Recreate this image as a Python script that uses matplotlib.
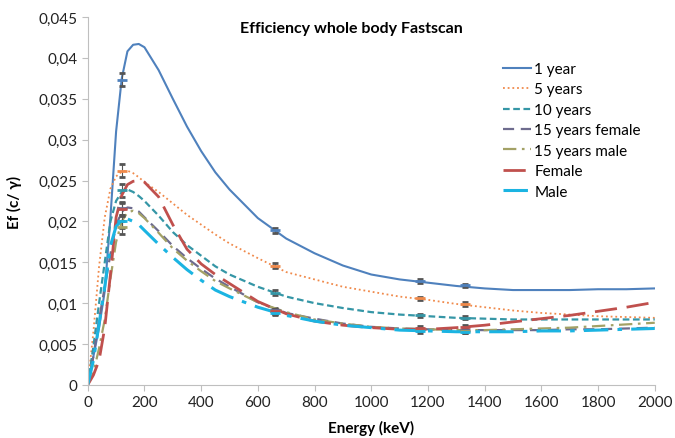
import matplotlib
matplotlib.use("Agg")
import matplotlib.pyplot as plt
from matplotlib.ticker import FuncFormatter, MultipleLocator

plt.rcParams['font.family'] = ['Lato', 'DejaVu Sans']

# energy grid of the fitted curves (keV)
energy = [0, 20, 40, 60, 80, 100, 120, 140, 160, 180, 200, 250, 300, 350, 400, 450,
          500, 600, 700, 800, 900, 1000, 1100, 1200, 1300, 1400, 1500, 1600, 1700,
          1800, 1900, 2000]

ef_1y = [0, 0.0035, 0.0070, 0.0115, 0.0205, 0.0310, 0.0375, 0.0408, 0.0416, 0.0417,
         0.0413, 0.0385, 0.0350, 0.0316, 0.0286, 0.0260, 0.0239, 0.0204, 0.0179,
         0.0161, 0.0146, 0.0135, 0.0129, 0.0125, 0.0121, 0.0118, 0.0116, 0.0116,
         0.0116, 0.0117, 0.0117, 0.0118]
ef_5y = [0, 0.0065, 0.0145, 0.0205, 0.0240, 0.0255, 0.0261, 0.0262, 0.0259, 0.0254,
         0.0248, 0.0236, 0.0222, 0.0208, 0.0196, 0.0184, 0.0173, 0.0155, 0.0138,
         0.0129, 0.0120, 0.0114, 0.0108, 0.0104, 0.0099, 0.0095, 0.0091, 0.0088,
         0.0086, 0.0084, 0.0083, 0.0082]
ef_10y = [0, 0.0047, 0.0100, 0.0150, 0.0200, 0.0225, 0.0236, 0.0239, 0.0236, 0.0231,
          0.0225, 0.0207, 0.0187, 0.0171, 0.0158, 0.0145, 0.0135, 0.0120, 0.0108,
          0.0100, 0.0094, 0.0089, 0.0086, 0.0084, 0.0082, 0.0081, 0.0080, 0.0080,
          0.0080, 0.0080, 0.0080, 0.0080]
ef_15f = [0, 0.0035, 0.0080, 0.0120, 0.0160, 0.0195, 0.0212, 0.0217, 0.0216, 0.0212,
          0.0205, 0.0188, 0.0170, 0.0155, 0.0142, 0.0130, 0.0120, 0.0101, 0.0088,
          0.0081, 0.0075, 0.0071, 0.0069, 0.0068, 0.0067, 0.0067, 0.0067, 0.0067,
          0.0068, 0.0068, 0.0069, 0.0070]
ef_15m = [0, 0.0015, 0.0045, 0.0080, 0.0130, 0.0175, 0.0200, 0.0211, 0.0213, 0.0210,
          0.0204, 0.0186, 0.0167, 0.0152, 0.0139, 0.0127, 0.0118, 0.0101, 0.0089,
          0.0080, 0.0075, 0.0071, 0.0069, 0.0068, 0.0067, 0.0067, 0.0068, 0.0069,
          0.0070, 0.0072, 0.0074, 0.0076]
ef_female = [0, 0.0012, 0.0030, 0.0070, 0.0135, 0.0205, 0.0232, 0.0245, 0.0249, 0.0250,
             0.0248, 0.0230, 0.0196, 0.0166, 0.0148, 0.0135, 0.0124, 0.0102, 0.0087,
             0.0078, 0.0073, 0.0070, 0.0068, 0.0068, 0.0070, 0.0073, 0.0077, 0.0081,
             0.0085, 0.0090, 0.0095, 0.0101]
ef_male = [0, 0.0030, 0.0075, 0.0120, 0.0170, 0.0194, 0.0201, 0.0203, 0.0200, 0.0196,
           0.0189, 0.0172, 0.0156, 0.0141, 0.0128, 0.0116, 0.0108, 0.0095, 0.0085,
           0.0078, 0.0073, 0.0070, 0.0067, 0.0066, 0.0065, 0.0065, 0.0065, 0.0066,
           0.0066, 0.0067, 0.0068, 0.0069]

# measured points (Co-57, Cs-137, Co-60 lines)
meas_energy = [122, 662, 1173, 1332]
meas_1y = [0.0373, 0.0189, 0.0127, 0.0122]
meas_5y = [0.0262, 0.0146, 0.0106, 0.0099]
meas_10y = [0.0238, 0.0113, 0.0085, 0.0082]
meas_15f = [0.0216, 0.0091, 0.0068, 0.0067]
meas_15m = [0.0193, 0.0090, 0.0068, 0.0066]
meas_female = [0.0215, 0.0090, 0.0070, 0.0071]
meas_male = [0.0200, 0.0088, 0.0066, 0.0065]
meas_err = [0.0008, 0.0003, 0.0002, 0.0002]

labels = ["1 year", "5 years", "10 years", "15 years female", "15 years male",
          "Female", "Male"]

series = [
    (ef_1y, meas_1y, "#4F81BD", "-", 1.5),
    (ef_5y, meas_5y, "#F08A4B", (0, (1, 1.6)), 1.3),
    (ef_10y, meas_10y, "#3596A6", (0, (3, 1.6)), 1.6),
    (ef_15f, meas_15f, "#6E6C8E", (0, (5, 3)), 1.6),
    (ef_15m, meas_15m, "#A3A166", (0, (6, 2.5, 1.2, 2.5)), 1.6),
    (ef_female, meas_female, "#C0504D", (0, (8, 3.5)), 2.0),
    (ef_male, meas_male, "#1BB4E2", (0, (8, 3, 1.5, 3)), 2.2),
]

fig = plt.figure(figsize=(6.75, 4.39), dpi=100)
ax = fig.add_axes([0.130, 0.121, 0.840, 0.838])

for (curve, meas, color, ls, lw), label in zip(series, labels):
    ax.plot(energy, curve, color=color, linestyle=ls, linewidth=lw, label=label)
    ax.errorbar(meas_energy, meas, yerr=meas_err, fmt='_', color=color,
                ecolor="#555555", elinewidth=0.8, capsize=2, markersize=7,
                markeredgewidth=2)

ax.set_xlim(0, 2000)
ax.set_ylim(0, 0.045)
ax.xaxis.set_major_locator(MultipleLocator(200))
ax.yaxis.set_major_locator(MultipleLocator(0.005))
ax.yaxis.set_major_formatter(FuncFormatter(lambda v, p: ('%g' % round(v, 4)).replace('.', ',')))

for side in ["top", "right"]:
    ax.spines[side].set_visible(False)
for side in ["left", "bottom"]:
    ax.spines[side].set_color("#BFBFBF")
ax.tick_params(colors="#BFBFBF", labelcolor="#222222", labelsize=11, length=4)

ax.set_xlabel("Energy (keV)", fontsize=11, fontweight="bold", labelpad=8)
ax.set_ylabel("Ef (c/ γ)", fontsize=11, fontweight="bold", labelpad=12)
fig.text(0.520, 0.935, "Efficiency whole body Fastscan", fontsize=11.5,
         fontweight="bold", ha="center", va="center")

ax.legend(loc="upper right", bbox_to_anchor=(1.0, 0.915), frameon=False,
          fontsize=11, handlelength=1.8, handletextpad=0.25, labelspacing=0.42)

plt.savefig("out.png")
